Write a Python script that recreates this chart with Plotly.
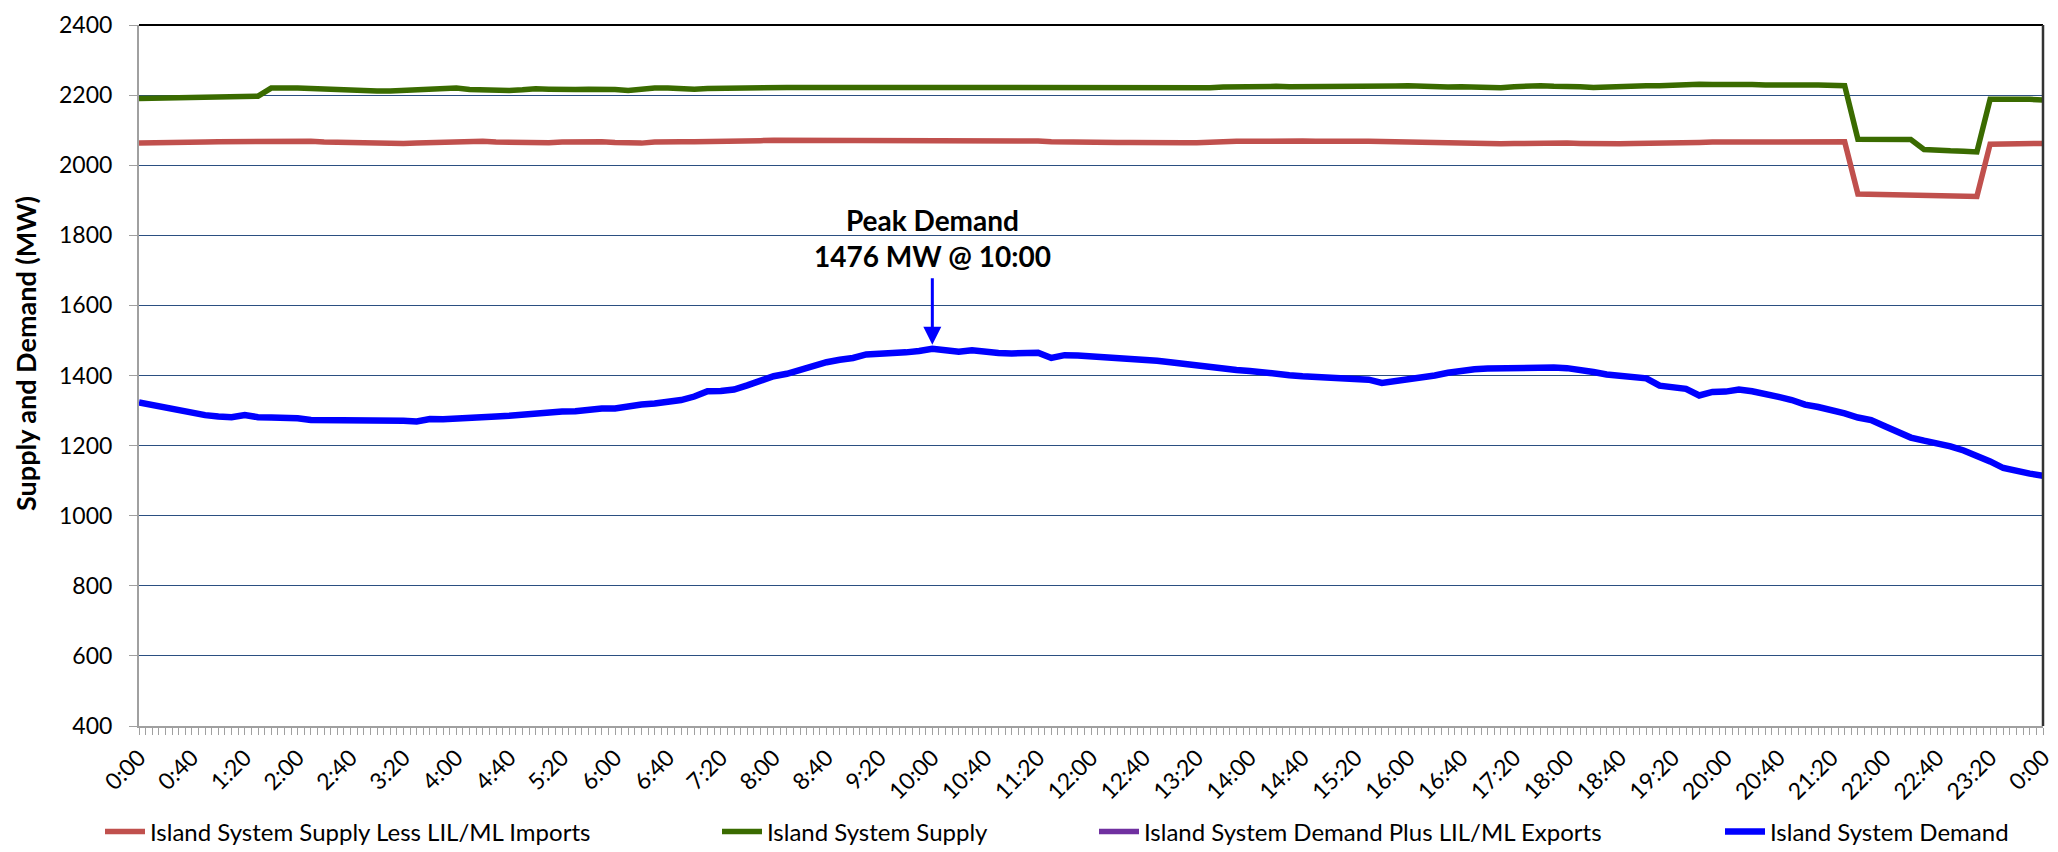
import plotly.graph_objects as go

# Time of day in minutes (10-minute readings, 0:00 to 0:00 next day)
times = list(range(0, 1441, 10))

# Island System Demand (MW)
demand = [
    1323, 1316, 1306, 1298, 1293, 1287,   # 0:00
    1283, 1281, 1287, 1281, 1280, 1281,   # 1:00
    1278, 1273, 1273, 1274, 1274, 1273,   # 2:00
    1272, 1271, 1271, 1269, 1276, 1275,   # 3:00
    1278, 1281, 1281, 1283, 1285, 1289,   # 4:00
    1290, 1293, 1297, 1298, 1303, 1306,   # 5:00
    1306, 1313, 1317, 1320, 1323, 1330,   # 6:00
    1340, 1355, 1356, 1360, 1372, 1385,   # 7:00
    1398, 1405, 1416, 1428, 1438, 1445,   # 8:00
    1450, 1460, 1461, 1463, 1466, 1470,   # 9:00
    1476, 1472, 1468, 1472, 1466, 1464,   # 10:00
    1463, 1464, 1465, 1450, 1458, 1457,   # 11:00
    1455, 1453, 1450, 1448, 1445, 1442,   # 12:00
    1438, 1433, 1428, 1423, 1420, 1416,   # 13:00
    1413, 1408, 1405, 1401, 1398, 1396,   # 14:00
    1394, 1391, 1390, 1388, 1379, 1384,   # 15:00
    1388, 1392, 1400, 1408, 1415, 1418,   # 16:00
    1420, 1421, 1423, 1425, 1425, 1423,   # 17:00
    1421, 1417, 1410, 1403, 1398, 1395,   # 18:00
    1392, 1371, 1367, 1362, 1343, 1353,   # 19:00
    1354, 1360, 1355, 1345, 1339, 1330,   # 20:00
    1317, 1310, 1303, 1292, 1280, 1273,   # 21:00
    1256, 1238, 1223, 1214, 1207, 1198,   # 22:00
    1186, 1172, 1155, 1136, 1126, 1120,   # 23:00
    1114,                                 # 0:00
]

# Island System Supply (MW)
supply = [
    2190, 2191, 2192, 2193, 2193, 2194,
    2194, 2195, 2196, 2197, 2220, 2221,
    2220, 2219, 2217, 2215, 2214, 2213,
    2212, 2212, 2214, 2215, 2216, 2218,
    2220, 2216, 2215, 2213, 2213, 2215,
    2218, 2217, 2215, 2216, 2217, 2218,
    2216, 2213, 2217, 2220, 2220, 2218,
    2217, 2219, 2220, 2221, 2221, 2222,
    2221, 2222, 2222, 2222, 2221, 2221,
    2220, 2220, 2221, 2220, 2219, 2219,
    2220, 2219, 2220, 2221, 2219, 2220,
    2220, 2221, 2220, 2221, 2220, 2220,
    2221, 2220, 2220, 2219, 2220, 2221,
    2220, 2220, 2221, 2221, 2223, 2224,
    2224, 2224, 2225, 2224, 2224, 2224,
    2223, 2224, 2224, 2225, 2225, 2226,
    2227, 2225, 2224, 2223, 2224, 2222,
    2220, 2221, 2224, 2226, 2227, 2225,
    2226, 2224, 2222, 2224, 2225, 2226,
    2227, 2227, 2229, 2230, 2231, 2230,
    2231, 2231, 2230, 2229, 2228, 2229,
    2229, 2229, 2229, 2227, 2074, 2074,
    2074, 2074, 2073, 2045, 2042, 2041,
    2040, 2038, 2188, 2189, 2188, 2188,
    2186,
]

# Island System Supply Less LIL/ML Imports (MW)
supply_less_imports = [
    2063, 2063, 2064, 2065, 2066, 2066,
    2067, 2067, 2068, 2068, 2069, 2069,
    2070, 2068, 2066, 2065, 2064, 2063,
    2063, 2062, 2062, 2063, 2064, 2065,
    2067, 2069, 2068, 2066, 2065, 2063,
    2062, 2064, 2066, 2067, 2068, 2067,
    2065, 2064, 2063, 2066, 2068, 2067,
    2067, 2067, 2068, 2068, 2069, 2070,
    2071, 2071, 2071, 2071, 2070, 2070,
    2070, 2069, 2069, 2070, 2069, 2068,
    2068, 2069, 2069, 2070, 2070, 2070,
    2070, 2069, 2069, 2067, 2066, 2066,
    2066, 2065, 2065, 2065, 2064, 2064,
    2065, 2064, 2064, 2066, 2067, 2068,
    2068, 2069, 2069, 2070, 2069, 2068,
    2069, 2068, 2068, 2068, 2067, 2067,
    2067, 2066, 2065, 2065, 2064, 2063,
    2062, 2061, 2062, 2063, 2062, 2062,
    2063, 2062, 2061, 2060, 2061, 2062,
    2062, 2063, 2064, 2064, 2065, 2066,
    2066, 2066, 2067, 2067, 2067, 2068,
    2068, 2068, 2068, 2067, 1918, 1917,
    1917, 1916, 1916, 1915, 1914, 1913,
    1912, 1911, 2060, 2061, 2061, 2062,
    2062,
]

# Island System Demand Plus LIL/ML Exports: legend entry only, no visible line
demand_plus_exports_x = [0]
demand_plus_exports = [None]

# X-axis tick labels (every 40 minutes)
x_labels = ["0:00", "0:40", "1:20", "2:00", "2:40", "3:20", "4:00", "4:40", "5:20",
            "6:00", "6:40", "7:20", "8:00", "8:40", "9:20", "10:00", "10:40", "11:20",
            "12:00", "12:40", "13:20", "14:00", "14:40", "15:20", "16:00", "16:40",
            "17:20", "18:00", "18:40", "19:20", "20:00", "20:40", "21:20", "22:00",
            "22:40", "23:20", "0:00"]
x_label_step = 40

y_title = "Supply and Demand (MW)"
peak_time = 600
peak_value = 1476
peak_text = "Peak Demand<br>1476 MW @ 10:00"

FONT = "Lato"
W, H = 2058, 852
ML, MR, MT, MB = 139, 15, 25, 126
PH = H - MT - MB

fig = go.Figure()

fig.add_trace(go.Scatter(x=times, y=supply_less_imports, mode="lines",
                         name="Island System Supply Less LIL/ML Imports",
                         line=dict(color="#C0504D", width=5.5), legend="legend"))
fig.add_trace(go.Scatter(x=times, y=supply, mode="lines",
                         name="Island System Supply",
                         line=dict(color="#3A6B00", width=5.5), legend="legend2"))
fig.add_trace(go.Scatter(x=demand_plus_exports_x, y=demand_plus_exports, mode="lines",
                         name="Island System Demand Plus LIL/ML Exports",
                         line=dict(color="#7030A0", width=5.5), legend="legend3"))
fig.add_trace(go.Scatter(x=times, y=demand, mode="lines",
                         name="Island System Demand",
                         line=dict(color="#0000FF", width=6.5), legend="legend4"))

leg_y = (H - 832) / H
legend_common = dict(orientation="h", yanchor="middle", xanchor="left", y=leg_y,
                     xref="container", yref="container",
                     font=dict(family=FONT, size=24, color="#000000"),
                     bgcolor="rgba(0,0,0,0)", itemwidth=40)

fig.update_layout(
    width=W, height=H,
    margin=dict(l=ML, r=MR, t=MT, b=MB, autoexpand=False),
    paper_bgcolor="white", plot_bgcolor="white",
    font=dict(family=FONT, color="#000000"),
    legend=dict(legend_common, x=100 / W),
    legend2=dict(legend_common, x=717 / W),
    legend3=dict(legend_common, x=1094 / W),
    legend4=dict(legend_common, x=1720 / W),
    xaxis=dict(
        range=[0, 1440],
        tickmode="array",
        tickvals=[i * x_label_step for i in range(len(x_labels))],
        ticktext=x_labels,
        tickangle=-45,
        tickfont=dict(family=FONT, size=23, color="#000000"),
        ticks="outside", ticklen=7, tickcolor="#A0A0A0", tickwidth=1,
        minor=dict(tick0=0, dtick=5, ticks="outside", ticklen=7,
                   tickcolor="#A0A0A0", tickwidth=1, showgrid=False),
        showgrid=False, zeroline=False, automargin=False,
        showline=True, linecolor="#A0A0A0", linewidth=2,
    ),
    yaxis=dict(
        range=[400, 2400],
        tickmode="linear", tick0=400, dtick=200,
        tickfont=dict(family=FONT, size=23, color="#000000"),
        ticks="outside", ticklen=8, tickcolor="#A0A0A0", tickwidth=1,
        ticklabelstandoff=12,
        showgrid=True, gridcolor="#2B4F81", gridwidth=1.4,
        zeroline=False, automargin=False,
        showline=True, linecolor="#A0A0A0", linewidth=2,
    ),
    showlegend=True,
)

# y-axis title (placed as in the reference, slightly above the axis centre)
fig.add_annotation(xref="paper", yref="paper", x=0, y=(MT + PH - 354) / PH,
                   xanchor="center", yanchor="middle", xshift=25 - ML,
                   text="<b>" + y_title + "</b>", textangle=-90, showarrow=False,
                   font=dict(family=FONT, size=27, color="#000000"))

# plot-area border (top black, right dark)
fig.add_shape(type="line", xref="paper", yref="paper", x0=0, x1=1, y0=1, y1=1,
              line=dict(color="#000000", width=2), layer="above")
fig.add_shape(type="line", xref="paper", yref="paper", x0=1, x1=1, y0=0, y1=1,
              line=dict(color="#333333", width=2.5), layer="above")

# Peak arrow
fig.add_annotation(x=peak_time, y=peak_value + 12, xref="x", yref="y", text="",
                   showarrow=True, arrowhead=2, arrowsize=1.2, arrowwidth=3,
                   arrowcolor="#0000FF", ax=0, ay=-68)
fig.add_annotation(x=peak_time, y=peak_value + 316, xref="x", yref="y",
                   text="<b>" + peak_text.replace("<br>", "</b><br><b>") + "</b>",
                   showarrow=False, align="center", yanchor="middle",
                   font=dict(family=FONT, size=28, color="#000000"))

fig.write_html("out.html", config={"displayModeBar": False},
               post_script="document.body.style.margin='0';")
